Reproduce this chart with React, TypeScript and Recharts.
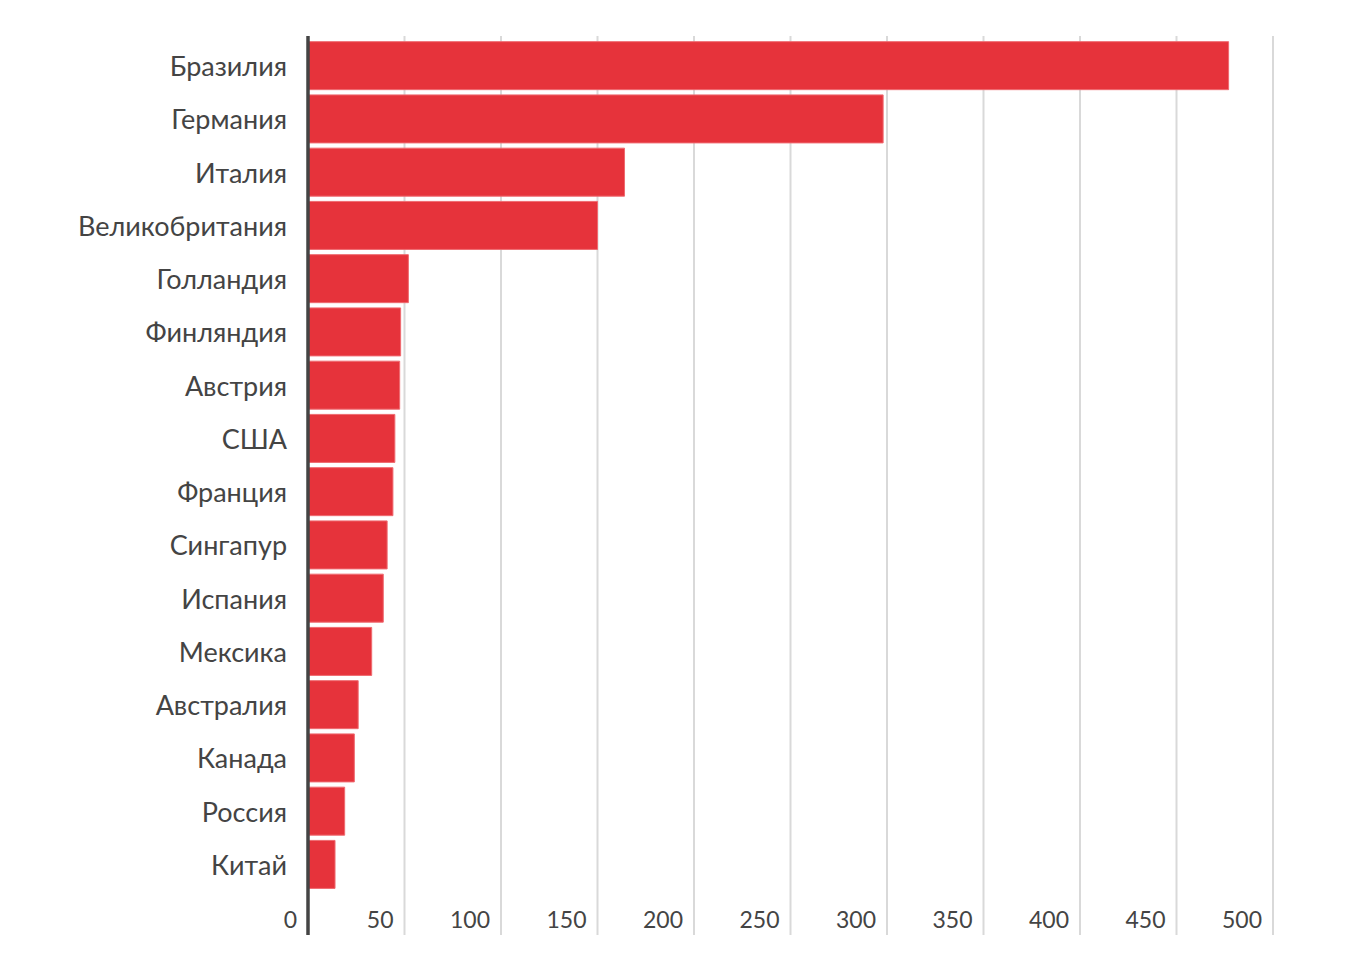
import React from "react";
import { Bar, BarChart, CartesianGrid, XAxis, YAxis } from "recharts";

const countries = [
  "Бразилия",
  "Германия",
  "Италия",
  "Великобритания",
  "Голландия",
  "Финляндия",
  "Австрия",
  "США",
  "Франция",
  "Сингапур",
  "Испания",
  "Мексика",
  "Австралия",
  "Канада",
  "Россия",
  "Китай",
];

const values = [477, 298, 164, 150, 52, 48, 47.5, 45, 44, 41, 39, 33, 26, 24, 19, 14];

const xTicks = [0, 50, 100, 150, 200, 250, 300, 350, 400, 450, 500];

const data = countries.map((name, i) => ({ name, value: values[i] }));

const FONT = "Lato, 'Open Sans', sans-serif";

function XTick(props: any) {
  const { x, y, payload } = props;
  return (
    <text
      x={x - 11}
      y={y - 15}
      textAnchor="end"
      fill="#444444"
      fontSize={23}
      fontFamily={FONT}
    >
      {payload.value}
    </text>
  );
}

export default function App() {
  return (
    <div style={{ margin: -8, background: "#ffffff" }}>
      <BarChart
        width={1356}
        height={972}
        data={data}
        layout="vertical"
        barCategoryGap="5%"
        margin={{ top: 36, right: 83, bottom: 0, left: 0 }}
      >
        <CartesianGrid horizontal={false} stroke="#d9d9d9" strokeWidth={2} />
        <XAxis
          type="number"
          domain={[0, 500]}
          ticks={xTicks}
          height={37}
          axisLine={false}
          tickLine={false}
          tick={<XTick />}
          interval={0}
        />
        <YAxis
          type="category"
          dataKey="name"
          width={308}
          padding={{ top: 3, bottom: 44 }}
          axisLine={{ stroke: "#444444", strokeWidth: 3.5 }}
          tickLine={false}
          tickMargin={15}
          interval={0}
          tick={{ fill: "#444444", fontSize: 27, fontFamily: FONT, dy: 1 }}
        />
        <Bar
          dataKey="value"
          fill="#e6333b"
          stroke="#ef6a70"
          strokeWidth={1}
          isAnimationActive={false}
        />
      </BarChart>
    </div>
  );
}
